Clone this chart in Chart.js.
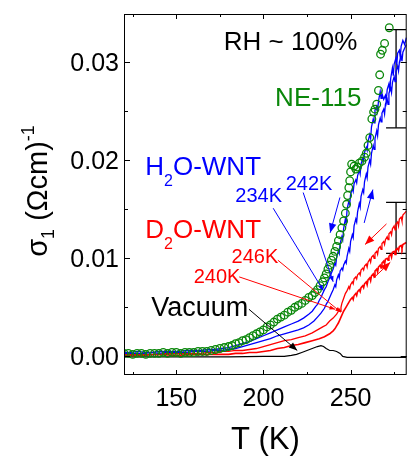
<!DOCTYPE html>
<html>
<head>
<meta charset="utf-8">
<script src="https://cdn.jsdelivr.net/npm/chart.js@4.4.0/dist/chart.umd.min.js"></script>
<style>
html, body { margin: 0; padding: 0; overflow: hidden; background: #fff; }
#c { display: block; }
</style>
</head>
<body>
<canvas id="c" width="418" height="457"></canvas>
<script>
// NE-115 reference (open circles)
const neT = [120,122.5,125,127.5,130,132.5,135,137.5,140,142.5,145,147.5,150,152.5,155,157.5,160,162.5,165,167.5,170,172.5,175,177.5,180,182,184,186,188,190,192,194,196,198,200,202,204,206,208,210,212,214,216,218,220,222,224,226,228,229.5,231,232.5,234,235,236,237,238,239,240,241,242,243,244,245,246,247,247.7,248.3,249,249.5,250,250.6,252,253,254,255,256.5,258,259,260,261,262.2,263.2,264,265,266,266.7,267.2,268.2,269.5,272.2]
const neV = [0.0003,0.0003,0.0002,0.0003,0.0003,0.0002,0.0003,0.0003,0.0003,0.0004,0.0003,0.0004,0.0004,0.0003,0.0004,0.0004,0.0004,0.0005,0.0005,0.0005,0.0006,0.0007,0.0008,0.0009,0.0010,0.0011,0.0013,0.0014,0.0016,0.0017,0.0019,0.0021,0.0023,0.0025,0.0027,0.0030,0.0032,0.0035,0.0038,0.0040,0.0042,0.0045,0.0047,0.0050,0.0052,0.0054,0.0057,0.0060,0.0062,0.0065,0.0068,0.0072,0.0076,0.0080,0.0084,0.0089,0.0093,0.0098,0.0102,0.0107,0.0112,0.0118,0.0124,0.0131,0.0138,0.0146,0.0155,0.0164,0.0172,0.0179,0.0188,0.0196,0.0194,0.0191,0.0193,0.0197,0.0199,0.0203,0.0207,0.0215,0.0223,0.0242,0.0249,0.0252,0.0257,0.0271,0.0287,0.0308,0.0312,0.0319,0.0335]

// H2O-WNT, two sweeps
const h2oAT = [120,124,128,132,136,140,144,148,152,156,160,164,168,172,176,180,184,188,192,196,200,204,208,212,216,220,223,226,228,230,231,232,233,234,235,236,237,238,239,240,241,241.5,242,243,243.5,244,245,245.5,246,247,247.5,248,249,249.5,250,251,251.5,252,253,253.5,254,255,255.5,256,257,257.5,258,259,259.5,260,261,261.5,262,263,263.5,264,265,265.5,266,267,267.5,268,269,270,270.5,271,272,272.5,273,274,274.5,275,276,276.5,277,278,278.5,279,280,281,282]
const h2oAV = [0.0004,0.0004,0.0005,0.0004,0.0004,0.0005,0.0005,0.0005,0.0005,0.0006,0.0006,0.0006,0.0007,0.0007,0.0008,0.0009,0.0011,0.0013,0.0015,0.0018,0.0021,0.0024,0.0027,0.0030,0.0033,0.0036,0.0039,0.0043,0.0046,0.0051,0.0053,0.0057,0.0060,0.0064,0.0068,0.0071,0.0076,0.0080,0.0085,0.0089,0.0095,0.0093,0.0101,0.0108,0.0105,0.0115,0.0122,0.0119,0.0130,0.0140,0.0136,0.0150,0.0158,0.0155,0.0165,0.0171,0.0168,0.0176,0.0180,0.0177,0.0184,0.0190,0.0186,0.0196,0.0202,0.0199,0.0208,0.0213,0.0210,0.0219,0.0226,0.0222,0.0234,0.0242,0.0238,0.0251,0.0255,0.0250,0.0260,0.0270,0.0263,0.0268,0.0262,0.0266,0.0260,0.0272,0.0278,0.0270,0.0283,0.0294,0.0286,0.0298,0.0304,0.0297,0.0309,0.0312,0.0305,0.0316,0.0322,0.0318,0.0325]
const h2oBT = [120,124,128,132,136,140,144,148,152,156,160,164,168,172,176,180,184,188,192,196,200,204,208,212,216,220,223,226,229,231,233,235,236,237,238,239,240,241,241.5,242,243,243.5,244,245,245.5,246,247,247.5,248,249,249.5,250,251,251.5,252,253,253.5,254,255,255.5,256,257,257.5,258,259,259.5,260,261,261.5,262,263,263.5,264,265,265.5,266,267,267.5,268,269,269.5,270,271,271.5,272,273,273.5,274,275,275.5,276,277,277.5,278,279,279.5,280,281,282]
const h2oBV = [0.0003,0.0003,0.0003,0.0003,0.0004,0.0003,0.0004,0.0004,0.0004,0.0004,0.0005,0.0005,0.0005,0.0006,0.0006,0.0007,0.0008,0.0010,0.0012,0.0014,0.0016,0.0018,0.0021,0.0023,0.0025,0.0027,0.0029,0.0032,0.0036,0.0040,0.0044,0.0049,0.0053,0.0056,0.0060,0.0064,0.0068,0.0073,0.0071,0.0078,0.0083,0.0080,0.0087,0.0090,0.0088,0.0093,0.0097,0.0095,0.0102,0.0110,0.0107,0.0117,0.0124,0.0121,0.0133,0.0140,0.0137,0.0147,0.0156,0.0152,0.0163,0.0170,0.0167,0.0178,0.0186,0.0182,0.0193,0.0200,0.0196,0.0207,0.0215,0.0211,0.0222,0.0230,0.0225,0.0236,0.0243,0.0239,0.0248,0.0252,0.0247,0.0257,0.0262,0.0257,0.0268,0.0274,0.0269,0.0279,0.0285,0.0280,0.0290,0.0296,0.0291,0.0300,0.0306,0.0301,0.0310,0.0314,0.0318]

// D2O-WNT, two sweeps
const d2oAT = [120,124,128,132,136,140,144,148,152,156,160,164,168,172,176,180,184,188,192,196,200,204,208,212,216,220,224,228,231,234,236,238,240,241,242,243,243.5,244,244.5,245,246,247,248,249,249.5,250,251,251.5,252,253,253.5,254,255,255.5,256,257,257.5,258,259,259.5,260,261,261.5,262,263,263.5,264,265,265.5,266,267,267.5,268,269,269.5,270,271,271.5,272,273,273.5,274,275,275.5,276,277,277.5,278,279,279.5,280,281,282]
const d2oAV = [0.0002,0.0002,0.0002,0.0002,0.0002,0.0002,0.0003,0.0003,0.0003,0.0003,0.0003,0.0003,0.0004,0.0004,0.0005,0.0005,0.0006,0.0006,0.0007,0.0008,0.0010,0.0012,0.0014,0.0016,0.0017,0.0019,0.0021,0.0024,0.0027,0.0030,0.0032,0.0036,0.0039,0.0041,0.0043,0.0046,0.0048,0.0046,0.0050,0.0054,0.0059,0.0064,0.0067,0.0071,0.0069,0.0073,0.0076,0.0074,0.0079,0.0081,0.0079,0.0083,0.0085,0.0083,0.0088,0.0090,0.0088,0.0092,0.0094,0.0091,0.0096,0.0099,0.0096,0.0101,0.0103,0.0100,0.0105,0.0107,0.0104,0.0110,0.0112,0.0109,0.0115,0.0117,0.0114,0.0119,0.0122,0.0119,0.0125,0.0127,0.0124,0.0130,0.0133,0.0129,0.0135,0.0137,0.0133,0.0140,0.0142,0.0138,0.0144,0.0146,0.0148]
const d2oBT = [120,130,140,150,160,170,180,184,188,192,196,200,204,208,212,216,220,224,228,232,235,238,240,241,242,243,244,245,246,247,248,249,250,251,251.5,252,253,253.5,254,255,255.5,256,257,257.5,258,259,259.5,260,261,261.5,262,263,263.5,264,265,265.5,266,267,267.5,268,269,269.5,270,271,271.5,272,273,273.5,274,275,275.5,276,277,277.5,278,279,279.5,280,281,282]
const d2oBV = [0.0001,0.0001,0.0002,0.0001,0.0002,0.0002,0.0002,0.0003,0.0003,0.0004,0.0004,0.0005,0.0006,0.0008,0.0009,0.0011,0.0012,0.0014,0.0016,0.0018,0.0020,0.0023,0.0026,0.0028,0.0031,0.0034,0.0038,0.0042,0.0046,0.0049,0.0052,0.0055,0.0058,0.0060,0.0058,0.0062,0.0064,0.0062,0.0066,0.0068,0.0066,0.0070,0.0072,0.0070,0.0074,0.0076,0.0073,0.0078,0.0080,0.0077,0.0082,0.0084,0.0081,0.0087,0.0089,0.0086,0.0091,0.0093,0.0090,0.0095,0.0097,0.0094,0.0099,0.0100,0.0098,0.0102,0.0104,0.0101,0.0106,0.0107,0.0104,0.0109,0.0110,0.0108,0.0112,0.0113,0.0110,0.0114,0.0115,0.0116]

// vacuum
const vacT = [120,150,180,200,212,216,219,222,225,228,231,233,234.5,236,238,240,242,244,245.5,248,260,282]
const vacV = [-0.00005,-0.00005,-0.00005,0,0,0.0001,0.0002,0.0004,0.0006,0.0008,0.0010,0.0011,0.0010,0.0008,0.0006,0.0006,0.0005,0.0003,0.0000,-0.0001,-0.0001,-0.0001]

// error bars: T, low, high
const errT = [276.1, 276.1]
const errLow = [0.0233, 0.0105]
const errHigh = [0.0333, 0.0157]

const xMajor = [150, 200, 250]
const xMinor = [125, 175, 225, 275]
const yMajor = [0, 0.01, 0.02, 0.03]
const yMinor = [0.005, 0.015, 0.025]

const GREEN = '#0a870a', BLUE = '#0000ff', RED = '#ff0000'
const FONT = 'Liberation Sans, Arial, sans-serif'

// labels: text parts [text, subscript?]
const notes = [
	{ parts: [['RH ~ 100%', 0]], at: [177.2, 0.0312], color: '#000', size: 26 },
	{ parts: [['NE-115', 0]], at: [206.7, 0.0255], color: GREEN, size: 26 },
	{ parts: [['H', 0], ['2', 1], ['O-WNT', 0]], at: [132.2, 0.01847], color: BLUE, size: 26 },
	{ parts: [['234K', 0]], at: [183.9, 0.01571], color: BLUE, size: 20 },
	{ parts: [['242K', 0]], at: [212.8, 0.01694], color: BLUE, size: 20 },
	{ parts: [['D', 0], ['2', 1], ['O-WNT', 0]], at: [132.2, 0.01204], color: RED, size: 26 },
	{ parts: [['246K', 0]], at: [181.7, 0.00949], color: RED, size: 20 },
	{ parts: [['240K', 0]], at: [160.0, 0.00745], color: RED, size: 20 },
	{ parts: [['Vacuum', 0]], at: [135.6, 0.00408], color: '#000', size: 27 }
]

// pointer lines from labels, and hysteresis arrows
const pointers = [
	{ from: [205.6, 0.0151], to: [234.4, 0.0067], color: BLUE, head: 6 },
	{ from: [222.8, 0.0167], to: [240.0, 0.0076], color: BLUE, head: 6 },
	{ from: [208.3, 0.0098], to: [244.4, 0.0045], color: RED, head: 6 },
	{ from: [186.1, 0.0081], to: [241.1, 0.0048], color: RED, head: 6 },
	{ from: [191.7, 0.0048], to: [219.4, 0.0006], color: '#000', head: 9 },
	{ from: [243.9, 0.0162], to: [238.3, 0.0126], color: BLUE, head: 10 },
	{ from: [257.8, 0.0136], to: [262.8, 0.0170], color: BLUE, head: 10 },
	{ from: [270.6, 0.0135], to: [258.3, 0.0114], color: RED, head: 10 },
	{ from: [263.3, 0.0080], to: [272.8, 0.0096], color: RED, head: 10 }
]

const pts = (t, v) => t.map((x, i) => ({ x: x, y: v[i] }))

const lineSet = (data, color, w) => ({
	data: data, showLine: true, borderColor: color, borderWidth: w,
	pointRadius: 0, fill: false, tension: 0
})

const errSets = errT.map((t, i) => ({
	data: [{ x: t, y: errLow[i] }, { x: t, y: errHigh[i] }],
	showLine: true, borderColor: '#000', borderWidth: 1.3,
	pointStyle: 'line', pointRadius: 10, pointBorderColor: '#000', pointBorderWidth: 1.3
}))

function arrowHead(ctx, x1, y1, x2, y2, len, color) {
	const a = Math.atan2(y2 - y1, x2 - x1)
	ctx.fillStyle = color
	ctx.beginPath()
	ctx.moveTo(x2, y2)
	ctx.lineTo(x2 - len * Math.cos(a - 0.38), y2 - len * Math.sin(a - 0.38))
	ctx.lineTo(x2 - len * Math.cos(a + 0.38), y2 - len * Math.sin(a + 0.38))
	ctx.closePath()
	ctx.fill()
}

const decor = {
	id: 'decor',
	afterDatasetsDraw(chart) {
		const { ctx, chartArea: a, scales: { x, y } } = chart
		ctx.save()

		// frame
		ctx.strokeStyle = '#000'
		ctx.lineWidth = 1
		ctx.strokeRect(a.left + 0.5, a.top + 0.5, a.right - a.left - 1, a.bottom - a.top - 1)

		// inward ticks on all sides
		const tick = (vals, len, horiz) => {
			vals.forEach(v => {
				ctx.beginPath()
				if (horiz) {
					const px = Math.round(x.getPixelForValue(v)) + 0.5
					ctx.moveTo(px, a.bottom); ctx.lineTo(px, a.bottom - len)
					ctx.moveTo(px, a.top); ctx.lineTo(px, a.top + len)
				} else {
					const py = Math.round(y.getPixelForValue(v)) + 0.5
					ctx.moveTo(a.left, py); ctx.lineTo(a.left + len, py)
					ctx.moveTo(a.right, py); ctx.lineTo(a.right - len, py)
				}
				ctx.stroke()
			})
		}
		tick(xMajor, 5, true)
		tick(xMinor, 3, true)
		tick(yMajor, 6, false)
		tick(yMinor, 4, false)

		// tick labels
		ctx.fillStyle = '#000'
		ctx.font = '25px ' + FONT
		ctx.textBaseline = 'alphabetic'
		ctx.textAlign = 'center'
		xMajor.forEach(v => ctx.fillText(String(v), x.getPixelForValue(v), 406))
		ctx.textAlign = 'right'
		yMajor.forEach(v => ctx.fillText(v.toFixed(2), 119, y.getPixelForValue(v) + 9))

		// pointers and arrows
		pointers.forEach(p => {
			const x1 = x.getPixelForValue(p.from[0]), y1 = y.getPixelForValue(p.from[1])
			const x2 = x.getPixelForValue(p.to[0]), y2 = y.getPixelForValue(p.to[1])
			ctx.strokeStyle = p.color
			ctx.lineWidth = 1
			ctx.beginPath()
			ctx.moveTo(x1, y1); ctx.lineTo(x2, y2)
			ctx.stroke()
			arrowHead(ctx, x1, y1, x2, y2, p.head, p.color)
		})

		// labels
		ctx.textAlign = 'left'
		notes.forEach(n => {
			let px = x.getPixelForValue(n.at[0])
			const py = y.getPixelForValue(n.at[1])
			ctx.fillStyle = n.color
			n.parts.forEach(([s, sub]) => {
				const sz = sub ? Math.round(n.size * 0.62) : n.size
				ctx.font = sz + 'px ' + FONT
				ctx.fillText(s, px, py + (sub ? n.size * 0.4 : 0))
				px += ctx.measureText(s).width
			})
		})

		// x title
		ctx.fillStyle = '#000'
		ctx.textAlign = 'center'
		ctx.font = '31px ' + FONT
		ctx.fillText('T (K)', (a.left + a.right) / 2, 449)

		// y title, rotated
		ctx.translate(47, 191)
		ctx.rotate(-Math.PI / 2)
		ctx.textAlign = 'left'
		const yParts = [['σ', 29, 0], ['1', 18, 7], [' (Ωcm)', 29, 0], ['-1', 18, -13]]
		let w = 0
		yParts.forEach(p => { ctx.font = p[1] + 'px ' + FONT; w += ctx.measureText(p[0]).width })
		let xx = -w / 2
		yParts.forEach(p => {
			ctx.font = p[1] + 'px ' + FONT
			ctx.fillText(p[0], xx, p[2])
			xx += ctx.measureText(p[0]).width
		})
		ctx.restore()
	}
}

Chart.defaults.font.family = FONT
Chart.defaults.color = '#000'

new Chart(document.getElementById('c'), {
	type: 'scatter',
	data: {
		datasets: [
			{
				data: pts(neT, neV), showLine: false, pointStyle: 'circle', pointRadius: 3.8,
				pointBorderColor: GREEN, pointBackgroundColor: 'rgba(0,0,0,0)', pointBorderWidth: 1.3
			},
			lineSet(pts(h2oAT, h2oAV), BLUE, 1.3),
			lineSet(pts(h2oBT, h2oBV), BLUE, 1.3),
			lineSet(pts(d2oAT, d2oAV), RED, 1.3),
			lineSet(pts(d2oBT, d2oBV), RED, 1.6),
			lineSet(pts(vacT, vacV), '#000', 1.2),
			...errSets
		]
	},
	options: {
		responsive: false,
		animation: false,
		devicePixelRatio: 1,
		layout: { padding: { top: 14, right: 2, left: 0, bottom: 0 } },
		plugins: { legend: { display: false }, tooltip: { enabled: false } },
		scales: {
			x: {
				type: 'linear', min: 120, max: 282.2,
				grid: { display: false, drawTicks: false },
				border: { display: false },
				ticks: { display: false },
				afterFit: s => { s.height = 82; s.paddingLeft = 0; s.paddingRight = 0 }
			},
			y: {
				type: 'linear', min: -0.0019, max: 0.0349,
				grid: { display: false, drawTicks: false },
				border: { display: false },
				ticks: { display: false },
				afterFit: s => { s.width = 124; s.paddingTop = 0; s.paddingBottom = 0 }
			}
		}
	},
	plugins: [decor]
})
</script>
</body>
</html>
